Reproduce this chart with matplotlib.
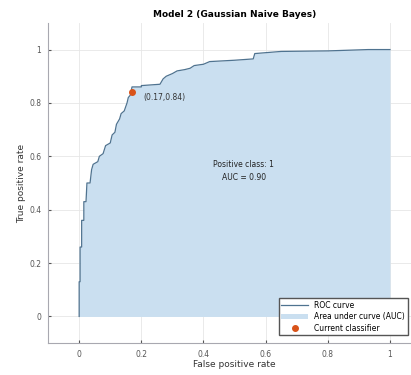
import matplotlib
matplotlib.use("Agg")
import matplotlib.pyplot as plt

# точки ROC-кривой
fpr = [0, 0, 0.003, 0.003, 0.008, 0.008, 0.015, 0.015, 0.022, 0.025, 0.035, 0.04,
       0.045, 0.06, 0.065, 0.077, 0.085, 0.10, 0.106, 0.115, 0.12, 0.13, 0.135,
       0.145, 0.154, 0.158, 0.165, 0.17, 0.20, 0.20, 0.26, 0.27, 0.28, 0.30,
       0.315, 0.34, 0.357, 0.37, 0.40, 0.42, 0.50, 0.56, 0.565, 0.65, 0.80,
       0.93, 1.0]
tpr = [0, 0.13, 0.13, 0.26, 0.26, 0.36, 0.36, 0.43, 0.43, 0.50, 0.50, 0.55,
       0.57, 0.58, 0.60, 0.61, 0.64, 0.65, 0.68, 0.69, 0.72, 0.74, 0.76,
       0.77, 0.80, 0.82, 0.83, 0.86, 0.86, 0.865, 0.87, 0.89, 0.90, 0.91,
       0.92, 0.925, 0.93, 0.94, 0.945, 0.955, 0.96, 0.965, 0.985, 0.993, 0.995,
       1.0, 1.0]

current_point = (0.17, 0.84)
auc_value = 0.90
positive_class = 1
ticks = [0, 0.2, 0.4, 0.6, 0.8, 1]
tick_labels = ["0", "0.2", "0.4", "0.6", "0.8", "1"]


def main():
    fig = plt.figure(figsize=(4.11, 3.75), dpi=100)
    ax = fig.add_axes([0.117, 0.085, 0.9075, 0.854])

    ax.fill_between(fpr, tpr, 0, color="#cadff0", linewidth=0,
                    label="Area under curve (AUC)", zorder=1)
    ax.plot(fpr, tpr, color="#4f7390", linewidth=0.9, label="ROC curve", zorder=2)
    ax.plot(*current_point, "o", color="#d95319", markersize=4,
            label="Current classifier", zorder=3)

    ax.text(current_point[0] + 0.035, current_point[1] - 0.02,
            f"({current_point[0]:.2f},{current_point[1]:.2f})",
            fontsize=5.5, color="#333333", va="center")
    ax.text(0.53, 0.545, f"Positive class: {positive_class}\nAUC = {auc_value:.2f}",
            fontsize=5.5, ha="center", va="center", color="#222222",
            linespacing=1.6)

    ax.set_xlim(-0.1, 1.1)
    ax.set_ylim(-0.1, 1.1)
    ax.set_xticks(ticks)
    ax.set_xticklabels(tick_labels)
    ax.set_yticks(ticks)
    ax.set_yticklabels(tick_labels)
    ax.tick_params(labelsize=5.5, direction="in", length=2.5, colors="#555555")
    ax.tick_params(axis="x", pad=5)
    ax.tick_params(axis="y", pad=5)
    ax.grid(True, color="#e6e6e6", linewidth=0.6)
    ax.set_axisbelow(True)

    for side in ("top", "right"):
        ax.spines[side].set_visible(False)
    for side in ("left", "bottom"):
        ax.spines[side].set_color("#a8a8b0")
        ax.spines[side].set_linewidth(0.8)

    ax.set_xlabel("False positive rate", fontsize=6.5, color="#333333", labelpad=1)
    ax.set_ylabel("True positive rate", fontsize=6.5, color="#333333", labelpad=2)
    ax.set_title("Model 2 (Gaussian Naive Bayes)", fontsize=6.5,
                 fontweight="bold", pad=4)

    handles, labels = ax.get_legend_handles_labels()
    order = [1, 0, 2]
    ax.legend([handles[i] for i in order], [labels[i] for i in order],
              loc="lower left", bbox_to_anchor=(0.669, 0.096),
              bbox_transform=fig.transFigure, fontsize=5.5, frameon=True,
              fancybox=False, edgecolor="#555555", framealpha=1,
              handlelength=3.5, borderpad=0.35, labelspacing=0.3)

    fig.savefig("out.png", dpi=100)


if __name__ == "__main__":
    main()
